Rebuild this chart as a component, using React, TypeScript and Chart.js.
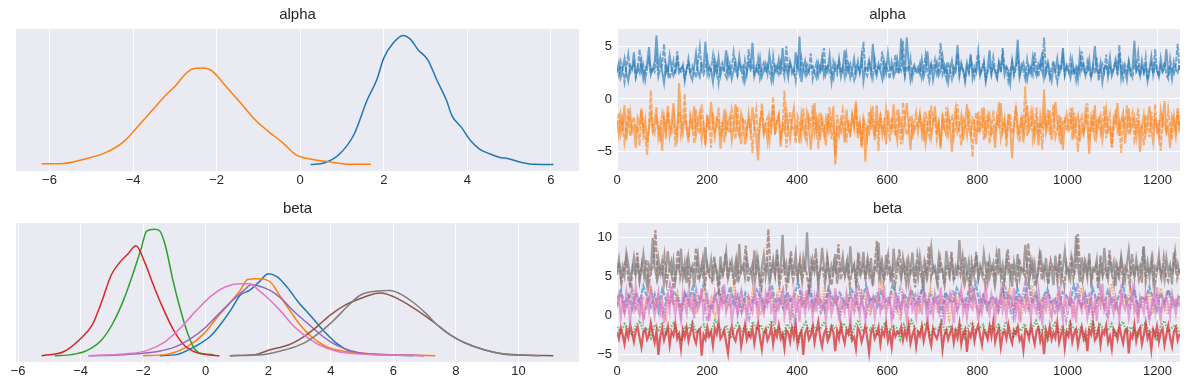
import React, { useEffect, useRef } from "react";
import { Chart, registerables } from "chart.js";

Chart.register(...registerables);

// ---------- colours (matplotlib tab10) ----------
const COLORS = ["#1f77b4", "#ff7f0e", "#2ca02c", "#d62728", "#9467bd", "#8c564b", "#e377c2", "#7f7f7f"];

// ---------- titles & ticks ----------
const TITLES = ["alpha", "beta"];
const ALPHA_KDE_TICKS = [-6, -4, -2, 0, 2, 4, 6];
const BETA_KDE_TICKS = [-6, -4, -2, 0, 2, 4, 6, 8, 10];
const DRAW_TICKS = [0, 200, 400, 600, 800, 1000, 1200];
const ALPHA_TRACE_YTICKS = [-5, 0, 5];
const BETA_TRACE_YTICKS = [-5, 0, 5, 10];
const DRAWS = 1250;

// ---------- alpha KDE (x, density) ----------
const alphaKde0X = [0.25, 0.57, 0.93, 1.29, 1.6, 1.83, 2.0, 2.23, 2.46, 2.64, 2.82, 3.05, 3.27, 3.5, 3.63, 3.86, 4.08, 4.3, 4.53, 4.76, 4.98, 5.25, 5.61, 6.06];
const alphaKde0Y = [0, 0.006, 0.038, 0.115, 0.244, 0.321, 0.404, 0.462, 0.49, 0.475, 0.436, 0.398, 0.321, 0.244, 0.186, 0.141, 0.09, 0.058, 0.041, 0.028, 0.022, 0.01, 0.001, 0];
const alphaKde1X = [-6.19, -5.74, -5.2, -4.66, -4.2, -3.94, -3.58, -3.22, -2.99, -2.77, -2.59, -2.32, -2.09, -1.77, -1.41, -1.1, -0.78, -0.42, -0.11, 0.3, 0.75, 1.2, 1.69];
const alphaKde1Y = [0.003, 0.003, 0.019, 0.045, 0.09, 0.135, 0.199, 0.263, 0.298, 0.34, 0.362, 0.366, 0.353, 0.295, 0.231, 0.173, 0.128, 0.083, 0.038, 0.019, 0.009, 0.001, 0.001];

// ---------- beta KDE (x, density) ----------
const betaKde0X = [-1.47, -0.94, -0.34, 0.14, 0.5, 0.8, 1.1, 1.4, 1.7, 2.0, 2.3, 2.6, 2.96, 3.38, 3.8, 4.22, 4.64, 5.18, 5.9, 6.62];
const betaKde0Y = [0, 0.005, 0.044, 0.091, 0.154, 0.216, 0.287, 0.31, 0.349, 0.389, 0.373, 0.326, 0.255, 0.185, 0.114, 0.055, 0.02, 0.008, 0.003, 0];
const betaKde1X = [-2.01, -1.29, -0.58, -0.04, 0.38, 0.8, 1.1, 1.34, 1.58, 1.94, 2.12, 2.36, 2.72, 3.02, 3.38, 3.74, 4.04, 4.46, 4.94, 5.78, 6.62, 7.34];
const betaKde1Y = [0, 0.005, 0.044, 0.107, 0.185, 0.255, 0.31, 0.362, 0.365, 0.36, 0.342, 0.287, 0.208, 0.146, 0.091, 0.052, 0.033, 0.02, 0.013, 0.005, 0.002, 0];
const betaKde2X = [-4.83, -4.29, -3.81, -3.33, -2.97, -2.61, -2.31, -2.07, -1.89, -1.65, -1.47, -1.29, -1.06, -0.82, -0.58, -0.34, -0.04, 0.26];
const betaKde2Y = [0, 0.005, 0.024, 0.075, 0.154, 0.271, 0.396, 0.506, 0.592, 0.6, 0.592, 0.522, 0.365, 0.224, 0.107, 0.028, 0.008, 0.005];
const betaKde3X = [-5.25, -4.53, -3.99, -3.63, -3.33, -3.03, -2.79, -2.49, -2.23, -1.95, -1.71, -1.41, -1.06, -0.7, -0.34, 0.02, 0.44];
const betaKde3Y = [0, 0.02, 0.083, 0.146, 0.255, 0.381, 0.436, 0.483, 0.522, 0.443, 0.349, 0.24, 0.13, 0.052, 0.017, 0.005, 0];
const betaKde4X = [-3.75, -2.61, -1.53, -0.94, -0.46, -0.04, 0.38, 0.86, 1.22, 1.46, 1.7, 2.06, 2.42, 2.78, 3.2, 3.62, 3.98, 4.4, 4.94, 5.9, 6.98];
const betaKde4Y = [0, 0.005, 0.02, 0.044, 0.083, 0.13, 0.193, 0.263, 0.31, 0.337, 0.331, 0.31, 0.271, 0.216, 0.161, 0.107, 0.067, 0.036, 0.013, 0.005, 0];
const betaKde5X = [0.77, 1.58, 2.06, 2.66, 3.14, 3.56, 3.98, 4.46, 4.94, 5.42, 5.6, 6.02, 6.5, 6.98, 7.34, 7.82, 8.3, 8.9, 9.5, 10.22, 11.12];
const betaKde5Y = [0, 0.005, 0.028, 0.052, 0.091, 0.138, 0.193, 0.24, 0.271, 0.295, 0.298, 0.279, 0.24, 0.193, 0.154, 0.099, 0.06, 0.028, 0.008, 0.002, 0];
const betaKde6X = [-3.75, -2.61, -1.89, -1.29, -0.82, -0.34, 0.14, 0.62, 1.1, 1.4, 1.7, 2.06, 2.42, 2.78, 3.14, 3.62, 4.22, 4.94, 5.9, 6.98];
const betaKde6Y = [0, 0.008, 0.024, 0.067, 0.13, 0.208, 0.279, 0.326, 0.342, 0.342, 0.31, 0.263, 0.208, 0.146, 0.099, 0.052, 0.02, 0.008, 0.003, 0];
const betaKde7X = [0.77, 1.82, 2.54, 3.14, 3.62, 4.1, 4.52, 4.94, 5.42, 5.9, 6.2, 6.62, 7.04, 7.4, 7.82, 8.3, 8.9, 9.5, 10.22, 10.7];
const betaKde7Y = [0, 0.005, 0.028, 0.06, 0.107, 0.169, 0.232, 0.287, 0.306, 0.31, 0.295, 0.255, 0.201, 0.146, 0.099, 0.06, 0.028, 0.009, 0.003, 0];

// ---------- alpha traces ----------
const alphaTrace0A = [
  2.6,3.4,2.1,2.9,3.8,2.4,1.7,3.1,2.8,4.4,2.2,3.0,2.5,3.6,1.9,2.7,3.3,4.9,2.3,2.8,
  3.5,6.0,2.9,3.9,2.6,1.5,3.2,2.4,4.1,3.0,2.2,2.7,3.7,2.5,2.9,3.1,2.0,2.8,3.4,2.3,
  1.8,3.0,4.3,2.6,2.1,3.3,2.9,5.4,2.4,3.1,2.7,1.6,3.6,2.5,3.9,2.2,3.0,2.8,4.6,2.3,
  3.2,1.9,2.7,3.5,2.4,4.0,2.8,3.1,1.7,2.6,3.4,2.9,5.3,2.2,3.0,2.5,3.8,2.1,2.7,3.3,
  2.4,4.2,2.9,1.8,3.1,2.6,3.7,2.3,4.8,2.7,3.0,2.0,3.5,2.8,2.4,4.4,2.6,5.9,1.6,2.9,
  3.6,2.3,2.8,3.0,3.1,2.5,2.0,3.4,2.7,3.9,2.2,3.0,2.6,4.1,2.4,1.9,3.3,2.8,3.5,2.1,
  2.9,4.6,2.5,3.2,2.0,2.7,3.8,2.3,3.1,2.6,4.0,1.7,3.0,2.8,3.6,2.4,5.2,2.9,2.2,3.3,
  2.7,1.9,3.5,2.5,4.3,2.8,3.1,2.1,2.6,3.7,2.4,5.7,3.0,2.3,5.8,3.4,1.8,2.7,3.2,2.6,
  3.0,2.4,3.7,2.1,2.8,4.5,2.6,3.3,1.8,2.9,3.5,2.2,2.7,4.0,2.5,3.1,1.6,2.8,3.6,2.3,
  2.9,5.1,2.4,3.2,2.7,1.9,3.4,2.6,4.2,2.0,3.0,2.5,3.8,2.2,2.8,3.3,1.7,2.9,4.6,2.4,
  3.1,2.6,2.0,3.5,2.8,4.1,2.3,3.0,2.7,1.5,3.6,2.5,3.2,5.6,2.1,2.9,3.4,2.6,1.8,3.0,
  2.4,3.9,2.7,2.2,3.3,2.9,4.4,2.0,2.8,3.5,2.5,1.7,3.1,2.6,3.8,2.3,2.9,4.8,2.4,3.2,
  2.7,2.0,3.6,2.5,3.0,1.9,4.2,2.8,3.3,2.4,2.6,3.7,2.1,3.0,5.0,2.7,2.3,3.4,1.6,2.9,
  3.1,2.5,3.9,2.2,2.8,3.5,2.6,4.3,2.0,3.2,2.7,1.8,3.4,2.4,2.9,5.5,2.6,3.0,2.2,3.6,
  2.5,3.1,1.7,2.8,4.0,2.3,3.3,2.7,2.1,3.8,2.6,2.9,4.7,2.4,3.0,1.9,3.5,2.8,2.5,3.2,
];
const alphaTrace0B = [
  2.9,2.2,3.5,2.7,1.6,3.1,4.2,2.5,2.9,3.4,2.0,2.8,4.7,2.6,3.2,1.8,2.9,3.7,2.4,3.0,
  2.6,3.9,2.1,2.8,3.3,5.2,2.5,3.0,1.9,2.7,3.6,2.3,4.5,2.9,2.6,3.2,1.7,2.8,3.8,2.4,
  3.1,2.6,2.0,3.5,4.9,2.7,2.3,3.0,3.9,2.2,2.8,4.1,2.5,3.2,1.5,2.9,3.4,2.6,2.1,3.7,
  2.4,3.0,4.4,2.7,2.2,3.3,2.9,1.9,3.6,2.5,4.7,2.8,3.1,2.3,2.6,3.8,2.0,2.9,3.4,2.5,
  3.2,2.7,1.8,4.0,2.6,3.1,2.4,3.5,2.9,2.1,5.0,2.7,3.3,2.4,2.8,1.7,3.6,2.5,3.9,2.9,
  2.3,3.2,2.6,4.3,1.9,2.8,3.4,2.2,3.0,2.6,4.8,2.4,3.1,2.9,1.6,3.5,2.7,2.3,3.8,2.5,
  3.0,2.1,4.1,2.7,3.3,2.5,1.8,2.9,3.6,2.4,3.1,5.4,2.6,2.2,3.4,2.9,2.0,3.7,2.5,3.0,
  2.8,4.5,2.3,3.2,2.6,1.9,3.5,2.8,4.2,2.4,3.0,2.7,5.5,2.2,3.1,2.6,3.8,2.0,2.9,2.5,
  2.5,3.3,2.0,2.8,4.1,2.6,1.7,3.2,2.9,3.7,2.3,2.7,5.3,2.4,3.1,2.0,3.5,2.8,1.9,3.0,
  2.6,4.3,2.2,3.4,2.7,1.6,3.0,2.5,3.8,2.9,2.1,3.2,4.6,2.4,2.8,3.6,1.8,2.6,3.1,2.3,
  3.9,2.7,2.0,3.3,2.5,4.8,2.8,3.0,1.7,2.6,3.5,2.2,2.9,4.0,2.4,3.2,2.7,1.9,3.7,2.5,
  3.0,2.3,4.4,2.8,2.1,3.4,2.6,5.8,2.4,3.1,2.0,2.9,3.6,2.5,1.6,3.3,2.7,4.1,2.2,3.0,
  2.6,3.8,2.3,2.9,1.8,3.2,2.5,4.5,2.8,2.2,3.5,2.7,2.0,3.1,2.4,3.9,1.7,2.8,3.3,2.6,
  4.2,2.1,3.0,2.5,2.9,3.7,2.3,5.1,2.7,1.9,3.2,2.6,3.6,2.4,2.0,3.4,2.8,4.3,2.2,3.0,
  2.5,3.9,1.8,2.7,3.3,2.4,4.7,2.9,2.1,3.1,2.6,3.5,2.3,1.9,3.8,2.7,2.4,3.2,5.2,2.6,
];
const alphaTrace1A = [
  -2.1,-3.4,-1.5,-2.8,-0.6,-3.9,-2.3,-1.2,-3.1,-2.6,-4.6,-1.8,-2.4,-0.9,-3.3,-2.0,-4.2,-2.7,-1.4,-3.0,
  -2.2,-0.8,-3.6,-2.5,-4.9,-1.7,-2.9,-1.1,-3.5,-2.3,-0.4,-2.8,-3.7,1.5,-2.0,-3.2,-1.6,-2.6,-4.1,-1.9,
  -2.7,-0.7,-3.4,-2.2,-1.3,-3.8,-2.5,-4.4,-1.5,-2.9,-0.3,-2.4,-3.6,-1.8,-2.1,-4.7,-2.8,-1.0,-3.2,-2.3,
  -1.6,-3.9,-2.6,-0.5,-2.9,-3.5,-1.4,-2.2,-4.3,-2.7,-1.9,-3.1,-0.8,-2.5,-3.7,-5.8,-2.0,-1.2,-3.3,-2.6,
  -4.0,-1.7,-2.8,-0.6,-3.4,-2.1,-1.5,-4.5,-2.4,-3.0,-1.1,-2.7,-3.8,-2.0,-0.9,-3.3,-2.5,-4.2,-1.6,-2.9,
  -3.6,-1.3,-2.2,-4.8,-2.7,-0.4,-3.1,-2.0,-3.9,-1.8,-2.6,-4.4,-1.4,-3.0,-2.3,-0.7,-6.2,-2.8,-3.5,-1.9,
  -2.4,-4.1,-1.0,-2.9,-3.3,-1.6,-2.5,-0.2,-3.7,-2.1,-4.6,-1.8,-5.9,-2.7,-3.2,-1.2,-2.4,-3.9,-0.6,-2.8,
  -1.7,-3.4,-2.2,-4.3,-1.1,-2.6,-3.0,-0.5,-2.9,-4.0,-1.5,-2.3,-3.6,-1.9,-0.4,-2.7,-4.8,-2.1,-3.1,-2.5,
  -2.6,-1.4,-3.3,-2.0,-4.2,-2.8,-1.1,-3.6,-2.4,-0.7,-3.0,-2.2,-4.5,-1.8,-2.9,-3.4,-1.3,-2.5,-5.0,-2.1,
  -0.9,-3.2,-2.7,-1.6,-3.9,-2.3,-0.5,-2.8,-3.5,-1.9,-2.4,-4.3,-1.2,-3.0,-2.6,-0.8,-3.7,-2.1,-1.5,-3.3,
  -2.8,-4.6,-1.7,-2.5,-0.4,-3.1,-2.2,-3.8,-1.4,-2.9,-5.6,-2.3,-1.0,-3.4,-2.7,-1.8,-4.1,-2.0,-0.6,-3.0,
  -2.5,-1.3,-3.6,-2.2,-4.4,-1.6,-2.8,0.9,-3.2,-2.4,-1.1,-3.9,-2.6,-0.3,-2.1,-3.5,-1.7,-4.8,-2.3,-1.4,
  -3.0,-2.7,-0.8,-3.7,-2.0,-1.5,-4.0,-2.6,-3.3,-1.2,-2.4,-5.2,-1.9,-2.9,-0.6,-3.4,-2.2,-1.6,-3.8,-2.5,
  -1.0,-3.1,-2.7,-4.5,-1.8,-2.3,-0.4,-3.5,-2.1,-1.3,-4.2,-2.8,-0.9,-3.0,-2.4,-1.7,-3.6,-2.0,-5.0,-2.6,
  -1.5,-3.3,-2.2,-0.7,-2.9,-4.1,-1.9,-2.5,-3.7,-1.1,-2.3,-0.2,-3.2,-2.7,-4.6,-1.6,-2.1,-3.5,-1.2,-2.8,
];
const alphaTrace1B = [
  -2.5,-1.3,-3.2,-2.0,-4.1,-2.7,-0.9,-3.5,-2.2,-1.7,-3.0,-2.6,-4.4,-1.1,-2.8,-3.6,-5.3,-2.3,0.8,-2.9,
  -3.3,-1.9,-2.6,-4.0,-1.4,-2.1,-3.8,-0.6,-2.4,-3.1,-1.8,-4.5,-2.7,-1.2,-3.4,-2.0,0.5,-2.9,-3.7,-1.5,
  -2.3,-4.2,-1.0,-2.8,-3.3,-0.5,-2.5,-3.9,-1.7,-2.2,-4.6,-1.3,-3.0,-2.6,-0.8,-3.5,-2.1,-4.1,-1.6,-2.9,
  -3.2,-1.1,-2.4,-3.8,-0.7,-2.7,-4.3,-1.9,-2.0,-3.4,-1.4,-2.8,-5.1,-2.3,-1.0,-3.6,-2.5,-0.4,-3.1,-2.2,
  -1.8,-4.0,-2.6,0.2,-3.3,-2.1,-1.5,-3.7,-2.9,0.8,-4.6,-2.4,-1.2,-3.0,-2.7,-4.2,-1.6,-2.2,-3.5,-0.9,
  -2.8,-3.9,-1.7,-2.5,-0.6,-3.2,-2.0,-4.7,-1.3,-2.6,-3.4,-1.9,-2.9,-0.8,-3.8,-2.3,-5.4,-1.5,-2.7,-3.1,
  -1.1,-2.4,-4.1,-2.0,-3.6,-1.6,-2.8,-0.5,-3.3,-2.2,-4.4,-1.8,-2.6,-3.7,-1.2,-2.9,-0.7,-3.5,-2.1,-4.9,
  -1.4,-2.7,-3.2,-0.9,-2.3,-4.0,-1.7,-2.8,-3.5,-1.0,-2.5,-4.3,-0.3,-2.0,-3.4,-2.9,-1.6,-3.8,-2.2,-1.3,
  -3.1,-1.6,-2.4,-4.0,-1.2,-2.8,-3.5,-0.6,-2.2,-1.9,-3.8,-2.5,-4.7,-1.4,-2.9,-0.8,-3.3,-2.1,-1.7,-3.6,
  -2.6,-0.5,-3.0,-4.4,-1.8,-2.3,-3.4,-1.0,-2.7,-5.5,-2.0,-1.3,-3.2,-2.5,-0.9,-3.9,-2.2,-1.5,-4.2,-2.8,
  -1.1,-3.0,-2.4,-0.3,-3.7,-2.6,-1.8,-4.5,-2.1,-1.4,-3.3,-2.9,-0.7,-2.3,-4.1,-1.6,-2.7,1.2,-3.5,-2.0,
  -1.2,-3.8,-2.5,-0.8,-3.1,-2.2,-4.8,-1.7,-2.6,-1.0,-3.4,-2.0,-0.5,-3.6,-2.8,-1.5,-4.3,-2.3,-1.9,-3.0,
  -2.4,-0.9,-3.9,-1.3,-2.7,-5.0,-2.1,-1.6,-3.2,-2.5,-0.4,-3.5,-2.9,-1.1,-4.0,-2.2,-1.8,-3.3,-2.6,-0.7,
  -3.7,-2.0,-1.4,-4.6,-2.8,-1.0,-3.0,-2.3,-5.1,-1.7,-2.5,-0.6,-3.4,-2.1,-1.3,-3.8,-2.7,-0.9,-3.1,-2.4,
  -4.4,-1.5,-2.2,-3.6,-1.2,-2.9,-0.5,-3.3,-2.0,-4.9,-1.8,-2.6,-3.1,-1.0,-2.4,-3.9,-1.6,-2.8,-0.8,-3.2,
];

// ---------- beta traces ----------
const betaTrace0 = [
  2.1,3.2,1.4,2.6,0.8,2.9,1.7,3.8,2.3,1.1,2.7,0.5,3.4,2.0,1.6,3.0,2.4,0.9,2.8,1.9,
  3.5,1.3,2.2,4.1,1.8,0.7,2.5,3.1,1.5,2.0,3.7,1.2,2.6,0.4,2.9,2.1,1.7,3.3,2.4,1.0,
  2.8,3.9,1.6,2.2,0.9,3.0,1.9,2.5,4.4,1.4,2.0,3.2,1.1,2.7,1.8,0.6,3.6,2.3,1.5,2.9,
  2.0,1.3,3.4,2.6,0.8,2.1,3.8,1.7,2.4,1.2,3.1,2.0,1.6,4.0,2.5,0.9,2.8,1.9,3.3,1.4,
  2.2,3.6,1.0,2.7,1.8,2.4,0.5,3.0,2.1,1.6,3.5,2.3,1.2,2.9,1.9,4.2,1.5,2.6,0.8,2.2,
  2.4,1.1,3.3,2.0,2.7,0.6,3.6,1.8,2.3,4.3,1.5,2.9,1.0,2.5,3.4,1.7,2.1,0.8,3.0,2.6,
  1.4,3.9,2.2,1.2,2.8,0.7,3.5,1.9,2.4,1.3,3.2,2.0,0.9,2.7,4.0,1.6,2.3,3.1,1.1,2.5,
  1.8,3.7,2.1,0.6,2.9,1.5,3.3,2.2,1.0,2.6,
];
const betaTrace1 = [
  1.4,2.7,0.6,1.9,3.3,1.1,0.2,2.4,1.7,3.8,0.9,2.0,1.3,-0.4,2.6,1.5,3.0,0.7,2.2,1.0,
  2.9,0.3,1.8,3.5,1.2,2.3,-0.2,1.6,2.8,0.8,1.9,4.0,1.4,0.5,2.5,1.1,3.2,1.7,0.0,2.1,
  1.5,2.9,0.9,3.6,1.3,2.0,-0.6,1.8,2.6,1.0,3.1,1.6,0.4,2.3,1.2,3.7,0.7,1.9,2.5,-0.1,
  1.4,2.8,1.1,0.6,2.2,3.4,1.5,0.2,2.0,1.7,4.3,0.8,1.6,2.7,1.0,-0.3,2.4,1.3,3.0,1.9,
  0.5,2.1,1.2,3.5,1.8,0.3,2.6,1.4,-0.5,2.2,1.6,3.2,0.9,1.7,2.9,1.1,0.1,2.3,1.5,1.0,
  1.8,0.4,2.7,1.2,3.4,0.6,1.9,-0.4,2.3,1.0,3.9,1.5,0.2,2.6,1.3,-0.2,2.0,3.1,0.8,1.7,
  2.5,0.0,1.4,3.6,1.1,2.2,-0.5,1.6,2.9,0.7,1.9,4.1,1.2,0.3,2.4,1.5,3.3,0.9,-0.1,2.1,
  1.6,2.8,0.5,1.3,3.5,1.8,0.1,2.2,1.4,2.6,
];
const betaTrace2 = [
  -1.5,-2.2,-1.1,-1.8,-2.6,-1.3,-0.7,-2.0,-1.6,-2.9,-1.2,-1.9,-0.9,-2.4,-1.7,-1.0,-2.1,-3.3,-1.4,-1.8,
  -0.8,-2.3,-1.6,-1.2,-2.7,-1.9,-0.6,-1.5,-2.2,-1.3,-3.0,-1.7,-1.0,-2.0,-1.4,-2.5,-0.8,-1.8,-1.2,-2.3,
  -1.6,-0.7,-2.1,-1.5,-2.8,-1.1,-1.9,-1.4,-3.6,-1.7,-0.9,-2.2,-1.3,-2.0,-1.6,-0.8,-2.5,-1.2,-1.8,-2.4,
  -1.0,-1.7,-2.9,-1.4,-0.6,-2.1,-1.5,-1.9,-1.1,-2.6,-1.8,-0.9,-2.3,-1.3,-1.6,-3.1,-1.2,-2.0,-0.7,-1.7,
  -2.2,-1.4,-1.0,-2.7,-1.6,-1.9,-0.8,-2.4,-1.3,-1.8,-2.0,-1.1,-2.8,-1.5,-0.9,-2.1,-1.7,-1.2,-2.5,-1.4,
  -1.9,-1.2,-2.4,-0.8,-1.7,-2.9,-1.4,-2.0,-1.1,-2.6,-1.6,-0.7,-2.2,-1.5,-3.2,-1.8,-1.0,-2.3,-1.3,-2.7,
  -0.9,-1.7,-2.1,-1.4,-3.4,-1.9,-0.6,-2.5,-1.2,-1.8,-2.0,-1.1,-2.8,-1.6,-0.8,-2.2,-1.5,-1.9,-2.6,-1.3,
  -1.0,-2.4,-1.7,-3.0,-1.4,-0.7,-2.1,-1.6,-1.2,-2.3,
];
const betaTrace3 = [
  -2.1,-3.0,-1.6,-2.5,-3.7,-1.9,-2.8,-1.2,-2.3,-3.4,-2.0,-1.5,-2.9,-4.1,-2.2,-1.8,-3.1,-2.6,-1.0,-2.4,
  -3.5,-2.0,-5.1,-2.7,-1.7,-3.2,-2.3,-1.4,-3.8,-2.1,-2.6,-1.1,-3.0,-2.4,-4.3,-1.9,-2.8,-1.6,-3.3,-2.2,
  -1.3,-2.9,-3.6,-2.0,-1.8,-5.2,-2.5,-3.1,-1.5,-2.7,-2.1,-3.9,-1.7,-2.4,-0.9,-3.0,-2.6,-1.9,-3.5,-4.9,
  -2.2,-1.4,-2.8,-3.3,-2.0,-1.6,-4.0,-2.5,-1.2,-3.1,-2.3,-2.8,-1.7,-3.6,-2.1,-1.0,-2.9,-4.4,-2.4,-1.8,
  -3.2,-2.6,-1.5,-3.7,-2.0,-2.7,-1.3,-3.0,-2.4,-4.2,-1.9,-2.2,-3.4,-1.6,-2.8,-1.1,-3.8,-2.5,-2.0,-5.1,
  -2.3,-1.7,-3.1,-2.6,-1.4,-3.5,-2.1,-0.8,-2.9,-4.0,-2.4,-1.8,-3.3,-2.7,-1.5,-2.2,-4.6,-2.0,-3.0,-1.2,
  -2.6,-3.6,-1.9,-2.4,-1.0,-3.2,-2.8,-4.3,-1.6,-2.1,-3.4,-2.5,-1.3,-2.9,-4.8,-2.2,-1.7,-3.0,-2.4,-1.5,
  -3.7,-2.0,-2.6,-1.1,-3.3,-2.3,-4.1,-1.8,-2.7,-2.1,
  -2.4,-1.5,-3.2,-2.0,-2.9,-1.2,-3.6,-2.5,-1.8,-4.0,-2.2,-2.7,-1.4,-3.3,-2.1,-0.9,-2.8,-3.9,-1.7,-2.5,
  -3.0,-2.2,-1.3,-4.4,-2.6,-1.9,-3.1,-2.3,-1.6,-3.5,-2.0,-2.9,-1.1,-3.7,-2.4,-1.8,-4.7,-2.2,-2.8,-1.5,
  -3.3,-2.0,-1.2,-2.6,-3.8,-1.9,-2.4,-3.1,-1.4,-2.7,-0.8,-3.4,-2.3,-1.7,-4.1,-2.5,-2.0,-3.0,-1.3,-2.8,
  -3.6,-1.9,-2.4,-1.5,-3.2,-2.7,-4.5,-1.8,-2.1,-3.0,-1.2,-2.6,-3.7,-2.0,-1.6,-3.3,-2.4,-5.0,-1.9,-2.8,
  -1.4,-3.1,-2.2,-2.9,-1.0,-3.5,-2.5,-1.7,-4.2,-2.1,-2.7,-1.3,-3.4,-2.3,-1.8,-3.9,-2.6,-1.5,-3.0,-2.2,
  -4.6,-1.9,-2.5,-1.1,-3.2,-2.8,-1.6,-3.8,-2.0,-2.4,-1.3,-3.5,-2.7,-4.3,-1.8,-2.2,-3.1,-1.4,-2.6,-3.6,
  -2.0,-1.7,-4.9,-2.4,-2.9,-1.2,-3.3,-2.1,-1.6,-3.7,-2.5,-1.0,-3.0,-2.3,-4.4,-1.9,-2.7,-1.4,-3.4,-2.2,
  -1.7,-3.8,-2.5,-1.3,-2.9,-4.0,-2.1,-1.6,-3.2,-2.4,
];
const betaTrace4 = [
  1.2,2.8,0.3,1.9,3.5,0.9,2.3,-0.6,1.6,3.1,1.0,2.5,0.1,1.8,4.0,1.3,2.2,-0.2,2.9,1.5,
  0.6,3.4,1.7,2.0,-0.8,1.4,2.7,0.8,3.8,1.9,1.1,2.4,0.2,3.0,1.6,-0.4,2.1,1.3,3.6,0.7,
  1.8,2.6,0.4,1.5,3.3,1.0,2.2,-0.9,1.7,2.9,0.9,4.4,1.4,2.0,0.3,1.6,3.2,1.1,2.5,-0.3,
  1.9,0.8,2.8,1.2,3.7,1.5,0.0,2.3,1.7,3.0,0.6,1.8,2.4,-0.5,1.3,3.5,2.0,0.9,1.6,2.7,
  1.1,4.1,1.8,0.4,2.2,1.4,-0.7,2.6,1.9,3.3,0.7,1.5,2.1,1.0,3.9,1.7,0.2,2.4,1.3,2.0,
  2.1,0.5,1.7,3.4,1.0,-0.5,2.6,1.4,3.9,0.8,1.9,2.5,-0.2,1.3,3.1,1.6,0.4,2.8,1.1,-0.8,
  2.3,1.5,4.2,0.9,1.8,2.7,0.1,1.4,3.5,1.2,-0.4,2.4,1.7,0.6,3.0,1.9,1.0,3.7,0.3,1.6,
  2.2,-0.6,1.5,2.9,0.7,1.8,3.3,1.1,2.0,1.4,
];
const betaTrace5 = [
  5.2,6.8,4.1,5.9,7.4,4.7,3.5,6.2,5.4,8.1,4.5,6.6,5.0,7.2,3.9,5.7,6.4,11.0,4.8,6.1,
  5.3,7.7,4.2,5.8,6.9,3.4,5.5,8.4,4.9,6.3,5.1,7.0,4.0,6.0,5.6,8.7,4.6,5.2,7.3,3.8,
  6.5,5.0,4.4,7.6,5.7,3.2,6.1,5.3,8.0,4.7,6.7,5.5,3.9,7.1,4.8,6.2,5.9,9.0,4.3,5.4,
  6.6,4.5,7.4,5.1,3.6,6.0,5.8,11.1,4.9,6.4,5.2,7.9,4.1,5.7,6.8,3.7,5.5,8.3,4.6,6.1,
  5.0,7.2,4.4,6.5,5.3,3.3,6.9,5.6,8.6,4.8,5.9,6.3,4.2,7.5,5.1,3.9,6.7,5.4,9.2,4.6,
  6.0,5.2,7.0,4.0,5.8,6.6,3.5,8.1,5.3,6.4,4.7,7.3,5.5,4.3,6.2,9.6,5.0,6.8,4.4,5.7,
  7.8,4.9,6.1,3.8,5.6,8.5,5.2,6.5,4.1,7.1,5.4,6.0,3.6,7.7,5.8,4.5,6.9,5.1,8.9,4.8,
  6.3,5.5,4.0,7.4,5.7,3.9,6.6,5.2,8.2,4.7,
  4.9,6.6,5.3,7.5,4.2,5.8,3.6,6.9,5.1,8.2,4.7,6.1,5.5,3.9,7.0,5.0,6.4,4.4,7.8,5.6,
  6.2,3.5,5.9,8.5,4.8,6.7,5.2,4.1,7.3,5.7,6.0,4.5,9.3,5.4,6.8,3.8,5.1,7.6,4.6,6.3,
  5.5,4.0,7.1,5.9,6.5,4.3,8.0,5.2,3.7,6.6,5.0,7.4,4.8,6.1,10.5,5.6,4.4,6.9,5.3,7.2,
  4.2,5.8,6.4,3.4,7.7,5.1,6.0,4.7,8.4,5.5,4.0,6.6,5.2,7.0,4.5,6.3,5.7,3.9,7.9,5.0,
  6.5,4.6,5.9,8.8,4.3,6.2,5.4,7.3,3.6,5.8,6.7,4.9,7.5,5.1,4.4,6.1,5.6,8.1,4.8,6.0,
];
const betaTrace6 = [
  1.0,2.4,-0.3,1.7,0.5,3.1,1.3,-0.8,2.0,0.9,3.6,1.5,0.2,2.7,-0.5,1.1,2.2,0.6,3.3,1.8,
  -0.1,1.4,2.9,0.4,1.9,-1.0,1.2,2.5,0.7,3.8,1.6,0.0,2.1,1.0,-0.6,2.8,1.4,0.3,3.2,1.1,
  1.9,-0.4,2.3,0.8,1.5,3.5,0.1,1.8,2.6,-0.7,1.3,0.6,2.9,1.7,-0.2,2.0,1.2,4.0,0.5,1.6,
  2.4,-0.9,1.0,2.7,0.3,1.9,3.1,0.8,1.4,-0.3,2.2,1.1,0.4,3.4,1.7,-0.5,2.5,1.0,0.2,2.8,
  1.5,3.7,0.6,1.3,-1.2,2.1,0.9,1.8,3.0,0.0,1.6,2.4,-0.4,1.2,2.9,0.7,1.9,-0.8,2.6,1.4,
  0.3,3.3,1.0,1.7,-0.1,2.3,0.5,4.2,1.3,0.8,2.0,-0.6,1.5,2.7,0.2,1.1,3.5,0.9,-0.3,2.2,
  1.6,0.4,2.8,1.2,-1.1,1.9,0.6,3.1,1.4,0.0,2.5,1.0,-0.5,3.6,1.8,0.7,2.1,-0.2,1.3,2.9,
  0.5,1.7,3.9,0.1,1.4,2.3,-0.7,1.0,2.6,0.8,
  1.8,0.2,2.6,1.1,-0.6,1.9,3.2,0.7,1.5,-0.2,2.4,1.0,0.4,3.0,1.6,-0.9,2.1,1.3,0.0,2.8,
  1.7,0.5,3.6,1.2,-0.4,2.0,0.9,2.7,1.4,-1.0,2.3,0.6,1.8,3.4,0.3,1.5,-0.3,2.5,1.1,0.8,
  2.9,1.6,-0.7,2.2,0.4,1.9,3.8,1.0,0.1,2.6,1.4,-0.5,2.0,1.2,3.1,0.6,1.7,-0.1,2.4,0.9,
  1.5,3.5,0.2,1.8,-0.8,2.1,1.3,0.7,2.9,1.6,-0.4,2.3,1.0,0.3,3.3,1.4,-1.3,1.9,0.8,2.6,
  1.2,-0.2,2.0,1.7,0.5,3.7,1.1,-0.6,2.4,0.9,1.6,2.8,0.1,1.3,-0.9,2.2,1.5,0.6,3.0,1.8,
  -0.3,1.0,2.5,0.4,1.9,-0.7,2.1,1.2,4.1,0.7,1.6,-0.1,2.7,1.3,0.2,2.3,1.0,-0.5,3.2,1.5,
  0.8,2.0,-0.2,1.7,3.4,0.5,1.4,-1.0,2.2,1.1,0.3,2.9,1.8,-0.4,1.2,2.5,0.6,3.6,1.0,-0.6,
  1.9,0.9,2.4,1.3,-0.1,2.8,1.6,0.2,2.1,1.1,
];
const betaTrace7 = [
  5.6,7.2,4.8,6.3,5.1,8.0,6.6,4.3,5.9,7.5,5.3,6.8,4.6,6.1,7.9,5.4,3.8,6.5,5.8,10.0,
  6.2,4.9,7.3,5.5,6.9,4.1,5.7,8.3,6.0,5.2,7.0,4.5,6.4,5.9,8.6,5.0,6.7,4.2,7.4,5.6,
  6.3,3.6,5.8,7.7,5.1,6.5,4.7,8.8,6.1,5.4,7.1,4.4,6.6,5.7,3.9,7.6,5.3,6.2,8.1,4.8,
  5.9,7.0,5.2,6.8,4.3,9.2,5.6,6.4,4.9,7.3,5.8,6.0,4.6,8.4,5.5,6.9,3.7,6.3,7.8,5.0,
  6.6,4.4,5.9,7.2,5.3,8.5,4.7,6.1,10.4,5.8,6.7,4.2,7.5,5.4,6.2,8.0,4.9,6.5,5.1,7.4,
  5.7,10.7,6.0,4.5,7.1,5.6,6.8,3.9,5.8,8.7,6.3,5.0,7.0,4.6,6.4,5.5,7.9,4.1,6.1,5.9,
  7.6,5.2,6.6,4.8,8.9,5.7,6.3,4.4,7.2,5.4,6.0,8.2,4.7,6.8,5.3,7.4,3.8,6.2,5.8,9.4,
  5.1,6.7,4.6,7.8,5.5,6.1,4.3,8.6,5.9,7.0,
  6.1,4.7,7.3,5.5,6.8,4.2,5.9,8.1,5.3,6.5,4.9,7.6,5.8,3.9,6.4,5.1,7.0,8.8,5.6,6.2,
  4.5,7.4,5.7,6.0,4.1,8.3,6.6,5.2,7.1,4.8,6.3,5.5,9.7,6.0,4.6,7.5,5.4,6.9,3.8,6.2,
  5.7,7.8,4.9,6.4,5.3,8.0,6.1,4.4,7.2,5.8,6.7,4.0,5.9,8.6,5.1,6.5,4.7,7.3,5.6,6.2,
  3.7,6.8,5.4,7.9,4.8,6.0,5.5,9.1,6.3,4.5,7.0,5.2,6.6,4.2,5.8,8.4,6.1,5.0,7.4,4.6,
  6.4,5.7,3.9,7.7,5.3,6.9,4.4,6.2,8.2,5.5,6.0,4.8,7.1,5.9,10.3,6.3,4.3,7.5,5.4,6.7,
  5.0,8.0,4.6,6.1,5.8,7.2,4.1,6.5,5.3,8.7,6.0,4.7,7.0,5.6,6.8,3.8,6.2,5.1,7.6,5.9,
  4.5,6.6,8.4,5.4,6.1,4.9,7.3,5.7,6.4,4.2,8.9,5.5,6.9,5.0,7.1,4.4,6.3,5.8,7.8,5.2,
  6.0,4.6,7.4,5.7,6.5,4.0,8.1,5.9,6.7,5.3,
];

// ---------- styling ----------
const FONT = "'Liberation Sans', Arial, 'DejaVu Sans', sans-serif";
const TEXT_COLOR = "#262626";
const BG = "#eaeaf2";

function rgba(hex: string, a: number) {
  const n = parseInt(hex.slice(1), 16);
  return `rgba(${(n >> 16) & 255},${(n >> 8) & 255},${n & 255},${a})`;
}
const fmt = (v: number) => (v < 0 ? "\u2212" + Math.abs(v) : String(v));

const bgPlugin = {
  id: "bgArea",
  beforeDraw(chart: any) {
    const { ctx, chartArea: a } = chart;
    ctx.save();
    ctx.fillStyle = BG;
    ctx.fillRect(a.left, a.top, a.right - a.left, a.bottom - a.top);
    ctx.restore();
  },
};

function zip(xs: number[], ys: number[]) {
  return xs.map((x, i) => ({ x, y: ys[i] }));
}
function traceData(vals: number[]) {
  const n = vals.length;
  return vals.map((v, i) => ({ x: (i * (DRAWS - 1)) / (n - 1), y: v }));
}
function padRange(vals: number[]) {
  const mn = Math.min(...vals);
  const mx = Math.max(...vals);
  const m = (mx - mn) * 0.05;
  return [mn - m, mx + m];
}

function xScale(min: number, max: number, ticks: number[], height: number) {
  return {
    type: "linear",
    position: "bottom",
    min,
    max,
    grid: { color: "#ffffff", lineWidth: 1, drawTicks: false },
    border: { display: false },
    ticks: { padding: 2, color: TEXT_COLOR, font: { family: FONT, size: 13 }, callback: (v: any) => fmt(v), maxRotation: 0, autoSkip: false },
    afterBuildTicks: (s: any) => {
      s.ticks = ticks.map((v) => ({ value: v }));
    },
    afterFit: (s: any) => {
      s.height = height;
    },
  };
}

function titleOpt(text: string, top: number, bottom: number) {
  return {
    display: true,
    text,
    color: TEXT_COLOR,
    font: { family: FONT, size: 15, weight: "normal" },
    padding: { top, bottom },
  };
}

function kdeConfig(title: string, curves: { x: number[]; y: number[] }[], colorIdx: number[], ticks: number[], row: number) {
  const allX = curves.flatMap((c) => c.x);
  const maxY = Math.max(...curves.flatMap((c) => c.y));
  const [xmin, xmax] = padRange(allX);
  const n = curves.length;
  return {
    type: "line",
    data: {
      datasets: curves.map((c, i) => ({
        data: zip(c.x, c.y),
        borderColor: COLORS[colorIdx[i]],
        borderWidth: 1.5,
        pointRadius: 0,
        fill: false,
        cubicInterpolationMode: "monotone",
        order: n - i,
      })),
    },
    options: {
      animation: false,
      responsive: false,
      devicePixelRatio: 1,
      layout: { padding: { left: 16, right: 16, top: 0, bottom: 0 } },
      plugins: {
        legend: { display: false },
        tooltip: { enabled: false },
        title: row === 0 ? titleOpt(title, 5.5, 5.5) : titleOpt(title, 5, 5),
      },
      scales: {
        x: xScale(xmin, xmax, ticks, row === 0 ? 24 : 28),
        y: { type: "linear", display: false, min: -0.05 * maxY, max: 1.05 * maxY },
      },
    },
    plugins: [bgPlugin],
  };
}

function traceConfig(title: string, series: number[][], colorIdx: number[], dashes: number[][], alphas: number[], yTicks: number[], row: number, width: number) {
  const [ymin, ymax] = padRange(series.flat());
  const n = series.length;
  return {
    type: "line",
    data: {
      datasets: series.map((s, i) => ({
        data: traceData(s),
        borderColor: rgba(COLORS[colorIdx[i]], alphas[i]),
        borderWidth: width,
        borderDash: dashes[i],
        pointRadius: 0,
        fill: false,
        tension: 0,
        order: n - i,
      })),
    },
    options: {
      animation: false,
      responsive: false,
      devicePixelRatio: 1,
      layout: { padding: { left: 0, right: 9, top: 0, bottom: 0 } },
      plugins: {
        legend: { display: false },
        tooltip: { enabled: false },
        title: row === 0 ? titleOpt(title, 5.5, 5.5) : titleOpt(title, 5, 5),
      },
      scales: {
        x: xScale(0, DRAWS, DRAW_TICKS, row === 0 ? 24 : 28),
        y: {
          type: "linear",
          min: ymin,
          max: ymax,
          grid: { color: "#ffffff", lineWidth: 1, drawTicks: false },
          border: { display: false },
          ticks: { padding: 5, color: TEXT_COLOR, font: { family: FONT, size: 13 }, callback: (v: any) => fmt(v) },
          afterBuildTicks: (s: any) => {
            s.ticks = yTicks.map((v) => ({ value: v }));
          },
          afterFit: (s: any) => {
            s.width = 22;
          },
        },
      },
    },
    plugins: [bgPlugin],
  };
}

function Panel({ left, top, width, height, make }: { left: number; top: number; width: number; height: number; make: () => any }) {
  const ref = useRef<HTMLCanvasElement>(null);
  useEffect(() => {
    const chart = new Chart(ref.current as HTMLCanvasElement, make());
    return () => chart.destroy();
  }, []);
  return (
    <canvas
      ref={ref}
      width={width}
      height={height}
      style={{ position: "absolute", left, top, width, height, display: "block" }}
    />
  );
}

const SOLID: number[] = [];
const DASHED = [5, 1.5];
const DOTTED = [1.5, 1.5];
const DASHDOT = [5, 1.5, 1.5, 1.5];

export default function App() {
  return (
    <div style={{ position: "absolute", left: 0, top: 0, width: 1189, height: 390, background: "#ffffff", overflow: "hidden" }}>
      <Panel
        left={0}
        top={0}
        width={595}
        height={195}
        make={() =>
          kdeConfig(TITLES[0], [{ x: alphaKde0X, y: alphaKde0Y }, { x: alphaKde1X, y: alphaKde1Y }], [0, 1], ALPHA_KDE_TICKS, 0)
        }
      />
      <Panel
        left={595}
        top={0}
        width={594}
        height={195}
        make={() =>
          traceConfig(
            TITLES[0],
            [alphaTrace0A, alphaTrace0B, alphaTrace1A, alphaTrace1B],
            [0, 0, 1, 1],
            [SOLID, DASHED, SOLID, DASHED],
            [0.62, 0.6, 0.6, 0.58],
            ALPHA_TRACE_YTICKS,
            0,
            2
          )
        }
      />
      <Panel
        left={0}
        top={195}
        width={595}
        height={195}
        make={() =>
          kdeConfig(
            TITLES[1],
            [
              { x: betaKde0X, y: betaKde0Y },
              { x: betaKde1X, y: betaKde1Y },
              { x: betaKde2X, y: betaKde2Y },
              { x: betaKde3X, y: betaKde3Y },
              { x: betaKde4X, y: betaKde4Y },
              { x: betaKde5X, y: betaKde5Y },
              { x: betaKde6X, y: betaKde6Y },
              { x: betaKde7X, y: betaKde7Y },
            ],
            [0, 1, 2, 3, 4, 5, 6, 7],
            BETA_KDE_TICKS,
            1
          )
        }
      />
      <Panel
        left={595}
        top={195}
        width={594}
        height={195}
        make={() =>
          traceConfig(
            TITLES[1],
            [betaTrace0, betaTrace1, betaTrace2, betaTrace3, betaTrace4, betaTrace5, betaTrace6, betaTrace7],
            [0, 1, 2, 3, 4, 5, 6, 7],
            [DASHED, DOTTED, DOTTED, SOLID, DASHDOT, DASHED, SOLID, SOLID],
            [0.55, 0.55, 0.65, 0.72, 0.55, 0.6, 0.65, 0.7],
            BETA_TRACE_YTICKS,
            1,
            2.2
          )
        }
      />
    </div>
  );
}
